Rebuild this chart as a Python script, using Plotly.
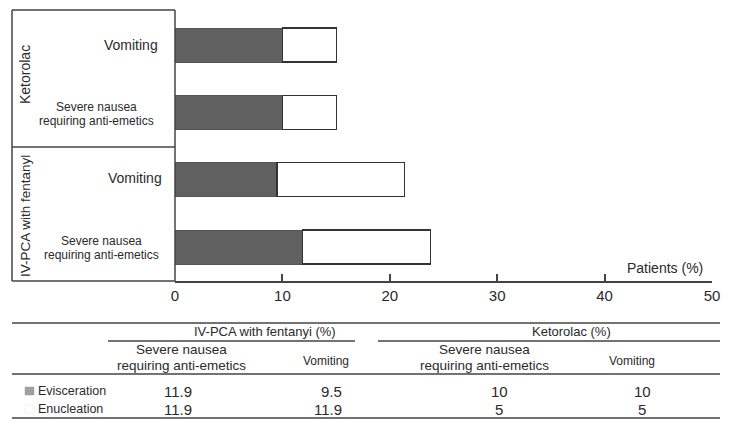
import plotly.graph_objects as go

# ---- data ----
groups = ["IV-PCA with fentanyl", "IV-PCA with fentanyl", "Ketorolac", "Ketorolac"]
outcomes = [["Severe nausea", "requiring anti-emetics"], ["Vomiting"],
            ["Severe nausea", "requiring anti-emetics"], ["Vomiting"]]
cat_ids = ["IV_severe", "IV_vomit", "K_severe", "K_vomit"]
evisceration = [11.9, 9.5, 10, 10]
enucleation = [11.9, 11.9, 5, 5]
x_ticks = [0, 10, 20, 30, 40, 50]

table_groups = ["IV-PCA with fentanyi (%)", "Ketorolac (%)"]
table_cols = [["Severe nausea", "requiring anti-emetics"], ["Vomiting"],
              ["Severe nausea", "requiring anti-emetics"], ["Vomiting"]]
table_rows = ["Evisceration", "Enucleation"]
table_vals = [[11.9, 9.5, 10, 10], [11.9, 11.9, 5, 5]]

# ---- layout geometry ----
W, H = 736, 429
L, R, T, B = 175, 24, 10, 148
PW, PH = W - L - R, H - T - B
AX_Y = T + PH


def X(px):
    return (px - L) / PW


def Y(py):
    return (AX_Y - py) / PH


DARK = "#606060"
LINE = "#444444"
TXT = "#2a2a2a"
FONT = "Liberation Sans"

fig = go.Figure()
fig.add_trace(go.Bar(y=cat_ids, x=evisceration, orientation="h", name="Evisceration",
                     marker=dict(color=DARK, line=dict(color="#555555", width=1)),
                     width=0.505, showlegend=False))
fig.add_trace(go.Bar(y=cat_ids, x=enucleation, orientation="h", name="Enucleation",
                     marker=dict(color="white", line=dict(color="#333333", width=1.2)),
                     width=0.505, showlegend=False))

shapes = []
annots = []


def hline(x0, x1, y, w=1.5, c=LINE):
    shapes.append(dict(type="line", xref="paper", yref="paper", x0=X(x0), x1=X(x1),
                       y0=Y(y), y1=Y(y), line=dict(color=c, width=w)))


def vline(x, y0, y1, w=1.5, c=LINE):
    shapes.append(dict(type="line", xref="paper", yref="paper", x0=X(x), x1=X(x),
                       y0=Y(y0), y1=Y(y1), line=dict(color=c, width=w)))


def text(t, x, y, size, xanchor="center", angle=0, color=TXT):
    annots.append(dict(text=t, x=X(x), y=Y(y), xref="paper", yref="paper",
                       showarrow=False, xanchor=xanchor, yanchor="middle",
                       textangle=angle, font=dict(family=FONT, size=size, color=color)))


def lines(parts, x, y, size, spacing, xanchor="center"):
    n = len(parts)
    for i, p in enumerate(parts):
        text(p, x, y + (i - (n - 1) / 2) * spacing, size, xanchor=xanchor)


# left label box
hline(12, 175, 10)
hline(12, 175, AX_Y)
hline(12, 175, 147)
vline(12, 10, AX_Y)
vline(175, 10, AX_Y)

# row labels in box
label_pos = {"IV_severe": (101, 248, "center", 12), "IV_vomit": (164, 178, "right", 14),
             "K_severe": (96, 114, "center", 12), "K_vomit": (160, 45, "right", 14)}
for cid, out in zip(cat_ids, outcomes):
    x, y, anc, sz = label_pos[cid]
    lines(out, x, y, sz, 14, xanchor=anc)

text("Ketorolac", 25, 75, 14, angle=-90)
text("IV-PCA with fentanyl", 25, 216, 13.5, angle=-90)
text("Patients (%)", 705, 268, 14, xanchor="right")

# table
hline(12, 720, 323)
hline(108, 355, 341)
hline(378, 720, 341)
hline(12, 720, 374)
hline(12, 720, 418)

text(table_groups[0], 265, 332, 13)
text(table_groups[1], 571, 332, 13)

col_x = [181, 326, 484, 632]
col_sizes = [13.5, 12, 13.5, 12]
for cx, cname, sz in zip(col_x, table_cols, col_sizes):
    lines(cname, cx, 357.5 if sz > 12 else 361, sz, 15)

row_y = [391, 409]
sq_colors = ["#a0a0a0", "white"]
for ry, rname, sc in zip(row_y, table_rows, sq_colors):
    shapes.append(dict(type="rect", xref="paper", yref="paper", x0=X(25), x1=X(34),
                       y0=Y(ry - 4), y1=Y(ry + 4), fillcolor=sc,
                       line=dict(color="#e4e4e4" if sc == "white" else sc, width=0.5)))
    text(rname, 36, ry, 12.5, xanchor="left")

val_x = [(178, "center"), (344, "right"), (499, "center"), (642, "center")]
for ry, rowv in zip(row_y, table_vals):
    for (vx, anc), v in zip(val_x, rowv):
        text(f"{v:g}", vx, ry, 15, xanchor=anc)

fig.update_layout(
    width=W, height=H,
    margin=dict(l=L, r=R, t=T, b=B),
    plot_bgcolor="white", paper_bgcolor="white",
    barmode="stack", bargap=0.5,
    shapes=shapes, annotations=annots,
    xaxis=dict(range=[0, 50], tickvals=x_ticks, ticks="inside", ticklen=7,
               tickcolor=LINE, tickwidth=1.5, showline=True, linecolor=LINE, linewidth=1.5,
               showgrid=False, zeroline=False,
               tickfont=dict(family=FONT, size=15, color=TXT), fixedrange=True),
    yaxis=dict(categoryorder="array", categoryarray=cat_ids, range=[-0.505, 3.52],
               showticklabels=False, ticks="", showgrid=False, zeroline=False,
               showline=False, fixedrange=True),
    font=dict(family=FONT, color=TXT),
)

fig.write_html("out.html", config={"displayModeBar": False},
               post_script="document.body.style.margin='0';")
